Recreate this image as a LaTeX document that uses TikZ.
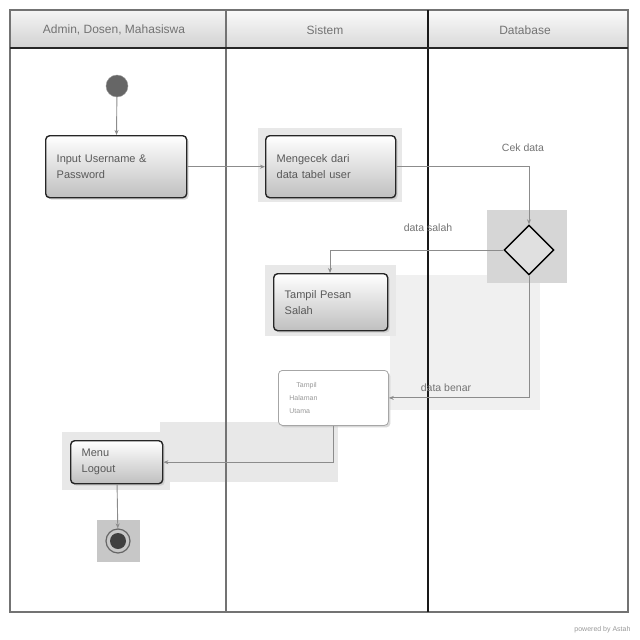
\documentclass[tikz,border=0pt]{standalone}
\usepackage{fontspec}
\setmainfont{Liberation Sans}
\usetikzlibrary{shapes.geometric,arrows.meta,shadows}
\begin{document}
\begin{tikzpicture}[x=1pt,y=-1pt,
  act/.style={draw=black!85,line width=1.4pt,rounded corners=4pt,top color=white,bottom color=black!25,
    align=left,font=\fontsize{11}{16}\selectfont,text=black!65,inner xsep=11pt,inner ysep=8pt,anchor=north west,
    drop shadow={fill=black!25,opacity=0.6,shadow xshift=2pt,shadow yshift=-2pt}},
  conn/.style={draw=black!45,line width=0.9pt,-{Stealth[length=5pt,width=4pt]}},
  lab/.style={font=\fontsize{10.5}{12}\selectfont,text=black!55},
  head/.style={font=\fontsize{12}{14}\selectfont,text=black!55},
  hl/.style={fill=black!#1}]
\useasboundingbox (0,0) rectangle (640,640);
% faint highlight areas
\fill[black!6] (390,275) rectangle (540,410);
\fill[black!9] (160,422) rectangle (338,482);
\fill[black!16] (487,210) rectangle (567,283);
\fill[black!9] (258,128) rectangle (402,202);
\fill[black!9] (265,265) rectangle (396,336);
\fill[black!9] (62,432) rectangle (170,490);
\fill[black!22] (97,520) rectangle (140,562);
% lanes
\shade[top color=black!4,bottom color=black!18] (10,10) rectangle (226,48);
\shade[top color=black!2,bottom color=black!15] (226,10) rectangle (428,48);
\shade[top color=black!2,bottom color=black!15] (428,10) rectangle (628,48);
\draw[black!55,line width=1.6pt] (10,10) rectangle (628,612);
\draw[black!55,line width=1.2pt] (226,10) -- (226,612);
\draw[black!90,line width=1.6pt] (428,10) -- (428,612);
\draw[black!85,line width=1.4pt] (10,48) -- (628,48);
\node[head] (h1) at (114,30) {Admin, Dosen, Mahasiswa};
\node[head] (h2) at (325,30) {Sistem};
\node[head] (h3) at (525,30) {Database};
% nodes
\node[circle,fill=black!60,draw=black!40,minimum size=22pt,inner sep=0pt] (start) at (117,86) {};
\node[act,minimum width=141pt,minimum height=62pt,text width=119pt] (input) at (45,135) {Input Username \&\\Password};
\node[act,minimum width=130pt,minimum height=62pt,text width=108pt] (cek) at (265,135) {Mengecek dari\\data tabel user};
\node[diamond,draw=black,line width=1.4pt,fill=black!12,minimum width=50pt,minimum height=50pt,inner sep=0pt] (dec) at (529,250) {};
\node[act,minimum width=114pt,minimum height=57pt,text width=92pt] (salah) at (273,273) {Tampil Pesan\\Salah};
\node[act,top color=white,bottom color=white,draw=black!35,line width=0.8pt,drop shadow={opacity=0},minimum width=110pt,minimum height=55pt,text width=88pt,font=\fontsize{7}{13}\selectfont,text=black!40,inner ysep=6pt] (menu) at (278,370) {\quad Tampil\\Halaman\\Utama};
\node[act,minimum width=92pt,minimum height=43pt,text width=70pt,inner ysep=4pt] (logout) at (70,440) {Menu\\Logout};
\node[circle,draw=black!60,line width=1.2pt,minimum size=24pt,inner sep=0pt] (end) at (118,541) {};
\node[circle,fill=black!75,minimum size=16pt,inner sep=0pt] (endin) at (end) {};
% connectors
\draw[conn] (start) -- (input);
\draw[conn] (input) -- (cek);
\draw[conn] (cek.east) -| (dec.north);
\node[lab] (l1) at (523,148) {Cek data};
\draw[conn] (dec.west) -| (salah.north -| 330,0);
\node[lab] (l2) at (428,228) {data salah};
\draw[conn] (dec.south) |- (menu.east);
\node[lab] (l3) at (446,388) {data benar};
\draw[conn] (menu.south -| 333,0) |- (logout.east);
\draw[conn] (logout) -- (end);
\node[font=\fontsize{7}{8}\selectfont,text=black!40,anchor=east] (pw) at (634,630) {powered by Astah};
\end{tikzpicture}
\end{document}
